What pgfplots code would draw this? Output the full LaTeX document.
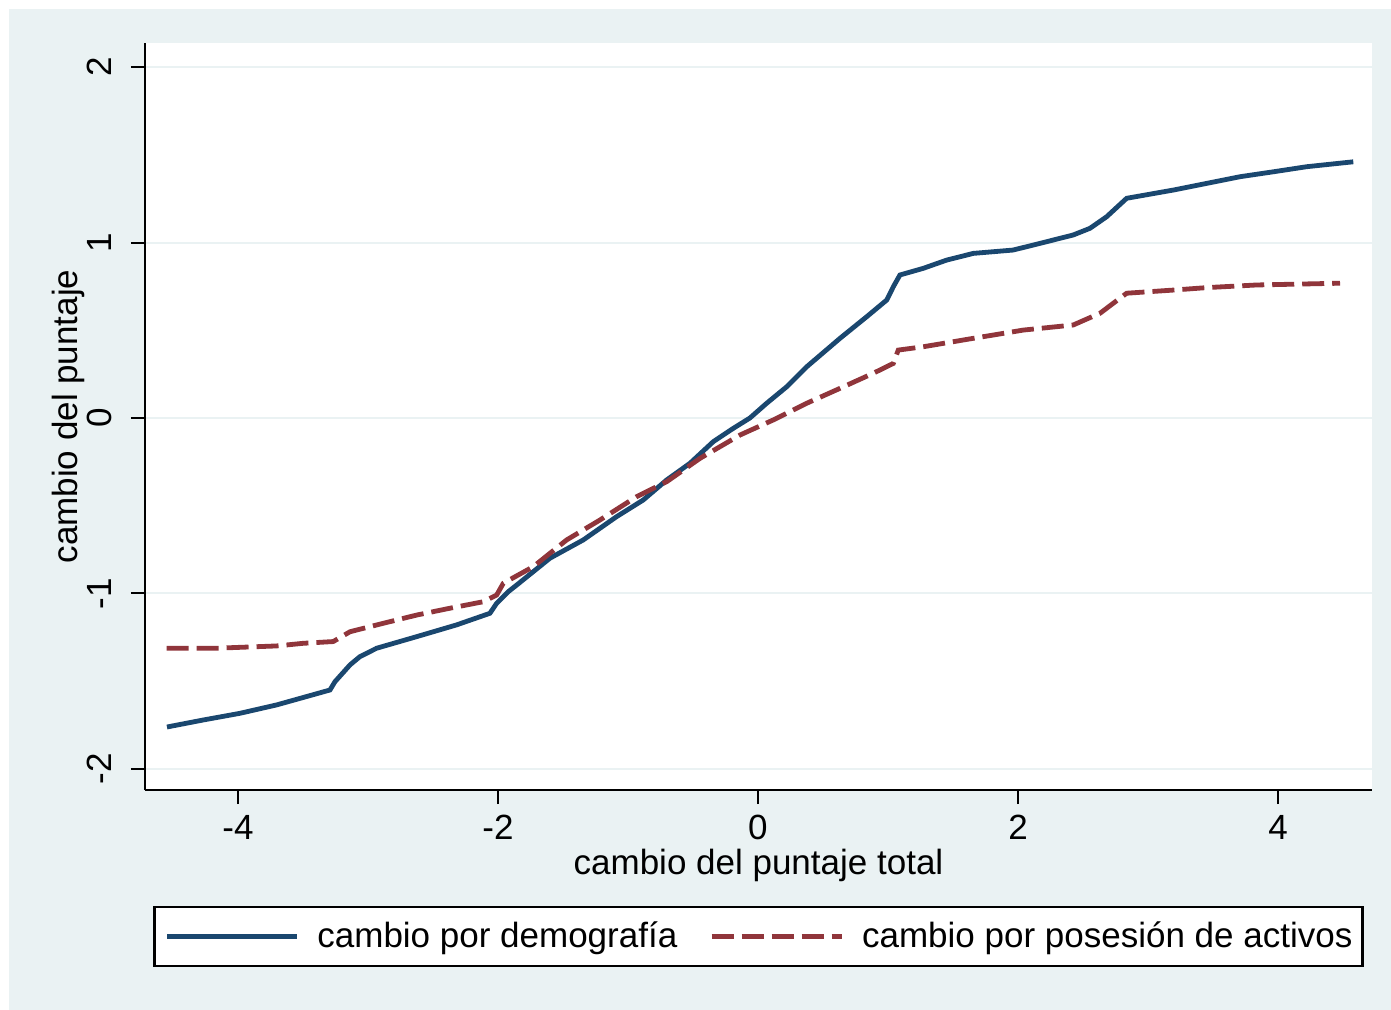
\documentclass[border=0pt]{standalone}
\usepackage{fontspec}
\setmainfont{Liberation Sans}
\usepackage{pgfplots}
\pgfplotsset{compat=1.18}
\definecolor{stbg}{HTML}{EAF2F3}
\definecolor{stblue}{HTML}{1A476F}
\definecolor{stred}{HTML}{90353B}
\begin{document}
\begin{tikzpicture}
\fill[white] (0,0) rectangle (695.5pt,-505pt);
\fill[stbg] (4.5pt,-4.5pt) rectangle (695.5pt,-505pt);
\begin{axis}[
 at={(72.5pt,-395pt)}, anchor=south west,
 scale only axis, width=613.5pt, height=373.5pt,
 xmin=-4.715, xmax=4.723, ymin=-2.12, ymax=2.137,
 axis x line*=bottom, axis y line*=left,
 axis line style={black, line width=1pt, -},
 axis background/.style={fill=white},
 xtick={-4,-2,0,2,4}, xticklabels={-4,-2,0,2,4},
 ytick={-2,-1,0,1,2}, yticklabels={-2,-1,0,1,2},
 tick align=outside, major tick length=7pt,
 tick style={black, line width=1pt},
 ymajorgrids, grid style={stbg, line width=1pt},
 ticklabel style={font=\fontsize{17.5}{21}\selectfont},
 yticklabel style={rotate=90, anchor=south},
 yticklabel shift=6pt,
 xticklabel shift=2pt,
 xlabel={cambio del puntaje total}, ylabel={cambio del puntaje},
 label style={font=\fontsize{17.5}{21}\selectfont},
 xlabel style={at={(axis description cs:0.5,-0.1005)}, anchor=center},
 ylabel style={at={(axis description cs:-0.0625,0.5)}, anchor=center},
 legend columns=2,
 legend cell align=left,
 legend style={at={(axis description cs:0.5,-0.1961)}, anchor=center,
   draw=black, line width=1.2pt, fill=white, inner xsep=5pt, inner ysep=7.5pt,
   font=\fontsize{17.5}{21}\selectfont, nodes={inner sep=0pt},
   /tikz/every odd column/.append style={column sep=9pt},
   /tikz/every even column/.append style={column sep=16pt}},
 legend image code/.code={\draw[#1] (0pt,0pt) -- (65pt,0pt);},
]
\addplot[stblue, line width=2.4pt] coordinates {
(-4.546,-1.761) (-4.267,-1.721) (-3.985,-1.683) (-3.702,-1.635) (-3.446,-1.582)
(-3.292,-1.550) (-3.254,-1.503) (-3.138,-1.407) (-3.062,-1.360) (-2.933,-1.312)
(-2.625,-1.246) (-2.318,-1.179) (-2.062,-1.113) (-2.010,-1.056) (-1.921,-0.990)
(-1.856,-0.952) (-1.600,-0.799) (-1.344,-0.695) (-1.087,-0.562) (-0.882,-0.467)
(-0.702,-0.353) (-0.523,-0.258) (-0.344,-0.135) (-0.190,-0.059) (-0.062,0.000)
(0.067,0.084) (0.221,0.178) (0.375,0.292) (0.631,0.454) (0.836,0.577)
(0.990,0.672) (1.041,0.748) (1.092,0.815) (1.272,0.853) (1.452,0.900)
(1.656,0.938) (1.962,0.957) (2.169,0.995) (2.425,1.043) (2.554,1.081)
(2.682,1.147) (2.836,1.252) (3.195,1.299) (3.452,1.337) (3.708,1.375)
(3.964,1.403) (4.221,1.432) (4.579,1.460)
};
\addlegendentry{cambio por demografía}
\addplot[stred, line width=2.4pt, dash pattern=on 11pt off 4pt] coordinates {
(-4.549,-1.312) (-4.164,-1.312) (-3.702,-1.299) (-3.498,-1.284) (-3.267,-1.274)
(-3.138,-1.218) (-2.882,-1.170) (-2.625,-1.123) (-2.369,-1.084) (-2.113,-1.047)
(-2.010,-1.009) (-1.959,-0.942) (-1.728,-0.847) (-1.472,-0.695) (-1.215,-0.581)
(-0.933,-0.448) (-0.702,-0.363) (-0.446,-0.230) (-0.138,-0.097) (0.118,-0.011)
(0.375,0.084) (0.631,0.169) (0.887,0.255) (1.041,0.311) (1.079,0.387)
(1.272,0.406) (1.656,0.454) (2.041,0.501) (2.425,0.530) (2.631,0.597)
(2.836,0.711) (3.195,0.729) (3.452,0.743) (3.836,0.758) (4.477,0.768)
};
\addlegendentry{cambio por posesión de activos}
\end{axis}
\end{tikzpicture}
\end{document}
